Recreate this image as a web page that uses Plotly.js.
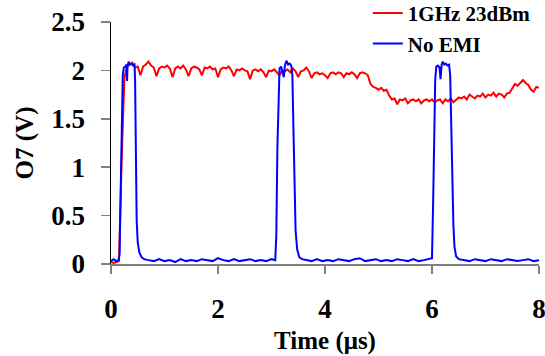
<!DOCTYPE html>
<html>
<head>
<meta charset="utf-8">
<script src="https://cdn.plot.ly/plotly-3.0.1.min.js"></script>
<style>html,body{margin:0;padding:0;background:#fff;}#chart{width:545px;height:356px;}</style>
</head>
<body>
<div id="chart"></div>
<script>
// Red trace: 1GHz 23dBm (sampled every 0.05 µs)
const redTime = [0.00,0.05,0.10,0.15,0.20,0.25,0.30,0.35,0.40,0.45,0.50,0.55,0.60,0.65,0.70,0.75,0.80,0.85,0.90,0.95,
1.00,1.05,1.10,1.15,1.20,1.25,1.30,1.35,1.40,1.45,1.50,1.55,1.60,1.65,1.70,1.75,1.80,1.85,1.90,1.95,
2.00,2.05,2.10,2.15,2.20,2.25,2.30,2.35,2.40,2.45,2.50,2.55,2.60,2.65,2.70,2.75,2.80,2.85,2.90,2.95,
3.00,3.05,3.10,3.15,3.20,3.25,3.30,3.35,3.40,3.45,3.50,3.55,3.60,3.65,3.70,3.75,3.80,3.85,3.90,3.95,
4.00,4.05,4.10,4.15,4.20,4.25,4.30,4.35,4.40,4.45,4.50,4.55,4.60,4.65,4.70,4.75,4.80,4.85,4.90,4.95,
5.00,5.05,5.10,5.15,5.20,5.25,5.30,5.35,5.40,5.45,5.50,5.55,5.60,5.65,5.70,5.75,5.80,5.85,5.90,5.95,
6.00,6.05,6.10,6.15,6.20,6.25,6.30,6.35,6.40,6.45,6.50,6.55,6.60,6.65,6.70,6.75,6.80,6.85,6.90,6.95,
7.00,7.05,7.10,7.15,7.20,7.25,7.30,7.35,7.40,7.45,7.50,7.55,7.60,7.65,7.70,7.75,7.80,7.85,7.90,7.95,8.00];
const redVolt = [0.02,0.01,0.02,0.03,1.10,1.92,2.04,2.06,2.08,2.03,2.04,1.95,2.04,2.06,2.09,2.05,2.03,1.94,2.02,2.04,
2.03,2.05,2.02,1.93,2.02,2.04,2.02,2.05,2.01,1.94,2.02,2.04,2.03,2.01,1.95,2.03,2.02,2.04,2.01,2.02,
1.93,2.01,2.03,2.02,2.04,2.00,1.94,2.01,2.00,2.02,2.00,1.99,1.91,2.00,2.01,1.99,2.01,1.98,1.93,2.00,
1.99,2.01,1.98,1.95,2.00,1.99,2.01,1.98,2.02,1.99,1.93,1.99,2.00,2.03,1.99,1.92,1.97,1.98,1.96,1.97,
1.95,1.92,1.97,1.98,1.96,1.98,1.97,1.93,1.97,1.96,1.98,1.96,1.92,1.97,1.98,1.97,1.95,1.86,1.83,1.82,
1.80,1.82,1.79,1.80,1.74,1.70,1.71,1.65,1.70,1.69,1.71,1.66,1.69,1.70,1.68,1.70,1.66,1.69,1.70,1.68,
1.70,1.67,1.69,1.70,1.66,1.70,1.68,1.71,1.67,1.70,1.72,1.71,1.73,1.70,1.75,1.73,1.71,1.74,1.73,1.76,
1.72,1.75,1.74,1.77,1.73,1.76,1.75,1.72,1.76,1.77,1.81,1.86,1.84,1.87,1.90,1.87,1.85,1.80,1.78,1.83,1.82];

// Blue trace: No EMI
const blueTime = [0.00,0.05,0.10,0.14,0.16,0.18,0.20,0.22,0.24,0.27,0.29,0.30,0.31,0.33,0.35,0.38,0.41,0.44,0.45,0.46,
0.47,0.48,0.50,0.53,0.57,0.62,0.70,0.80,0.90,1.00,1.10,1.20,1.30,1.40,1.50,1.60,1.70,1.80,1.90,2.00,
2.10,2.20,2.30,2.40,2.50,2.60,2.70,2.80,2.90,3.00,3.07,3.09,3.11,3.13,3.15,3.18,3.21,3.23,3.25,3.28,
3.31,3.34,3.37,3.39,3.41,3.43,3.45,3.48,3.52,3.57,3.65,3.75,3.85,3.95,4.05,4.15,4.25,4.35,4.45,4.55,
4.65,4.75,4.85,4.95,5.05,5.15,5.25,5.35,5.45,5.55,5.65,5.75,5.85,5.95,6.00,6.02,6.04,6.06,6.08,6.11,
6.14,6.16,6.18,6.20,6.23,6.26,6.29,6.32,6.34,6.36,6.38,6.40,6.42,6.45,6.50,6.60,6.70,6.80,6.90,7.00,
7.10,7.20,7.30,7.40,7.50,7.60,7.70,7.80,7.90,8.00];
const blueVolt = [0.03,0.05,0.03,0.04,0.10,0.90,1.60,1.95,2.03,2.04,2.06,1.89,2.05,2.09,2.06,2.07,2.05,2.06,1.90,1.30,
0.80,0.45,0.22,0.12,0.07,0.05,0.04,0.03,0.05,0.03,0.04,0.02,0.05,0.03,0.04,0.03,0.05,0.04,0.03,0.06,
0.04,0.03,0.05,0.03,0.04,0.05,0.03,0.04,0.03,0.05,0.04,0.30,1.20,1.80,2.02,2.04,1.98,1.93,2.05,2.10,
2.06,2.07,2.05,1.95,1.40,0.70,0.35,0.15,0.07,0.05,0.04,0.03,0.05,0.03,0.04,0.03,0.05,0.04,0.03,0.05,
0.06,0.03,0.04,0.05,0.03,0.04,0.03,0.05,0.04,0.03,0.05,0.03,0.04,0.05,0.06,0.60,1.40,1.90,2.04,2.05,
2.03,1.91,2.06,2.09,2.06,2.07,2.05,2.06,1.95,1.40,0.80,0.40,0.18,0.08,0.05,0.04,0.03,0.05,0.04,0.03,
0.05,0.04,0.03,0.05,0.04,0.03,0.04,0.05,0.03,0.04];

const seriesNames = ['1GHz 23dBm', 'No EMI'];
const xTickVals = [0, 2, 4, 6, 8];
const yTickVals = [0, 0.5, 1, 1.5, 2, 2.5];
const yTickText = ['0', '0.5', '1', '1.5', '2', '2.5'];

const FONT = 'Liberation Serif, Times New Roman, serif';

const traces = [
  {x: redTime, y: redVolt, name: seriesNames[0], mode: 'lines', line: {color: '#ff0000', width: 2}},
  {x: blueTime, y: blueVolt, name: seriesNames[1], mode: 'lines', line: {color: '#0000ff', width: 2}}
];

const layout = {
  width: 545, height: 356,
  margin: {l: 111, r: 6, t: 22, b: 92, autoexpand: false},
  paper_bgcolor: '#ffffff', plot_bgcolor: '#ffffff',
  font: {family: FONT, color: '#000', weight: 'bold'},
  showlegend: true,
  legend: {x: 0.6, xanchor: 'left', y: 1.12, yanchor: 'top', bgcolor: 'rgba(255,255,255,0)',
           font: {family: FONT, size: 21, color: '#000', weight: 'bold'}, tracegroupgap: 0},
  xaxis: {
    range: [0, 8], tickvals: xTickVals, ticktext: xTickVals.map(String),
    showgrid: false, zeroline: false, showline: true, linecolor: '#808080', linewidth: 1.5,
    ticks: 'outside', ticklen: 8, tickwidth: 1.5, tickcolor: '#808080',
    ticklabeloverflow: 'allow',
    tickfont: {family: FONT, size: 27, color: '#000', weight: 'bold'}, ticklabelstandoff: 12,
    title: {text: 'Time (μs)', font: {family: FONT, size: 25, color: '#000', weight: 'bold'}, standoff: 8}
  },
  yaxis: {
    range: [0, 2.5], tickvals: yTickVals, ticktext: yTickText,
    showgrid: false, zeroline: false, showline: true, linecolor: '#000', linewidth: 1.5,
    ticks: 'outside', ticklen: 9, tickwidth: 1.5, tickcolor: '#808080',
    ticklabeloverflow: 'allow',
    tickfont: {family: FONT, size: 27, color: '#000', weight: 'bold'}, ticklabelstandoff: 10,
    title: {text: 'O7 (V)', font: {family: FONT, size: 25, color: '#000', weight: 'bold'}, standoff: 10}
  }
};

Plotly.newPlot('chart', traces, layout, {displayModeBar: false, staticPlot: true});
</script>
</body>
</html>
